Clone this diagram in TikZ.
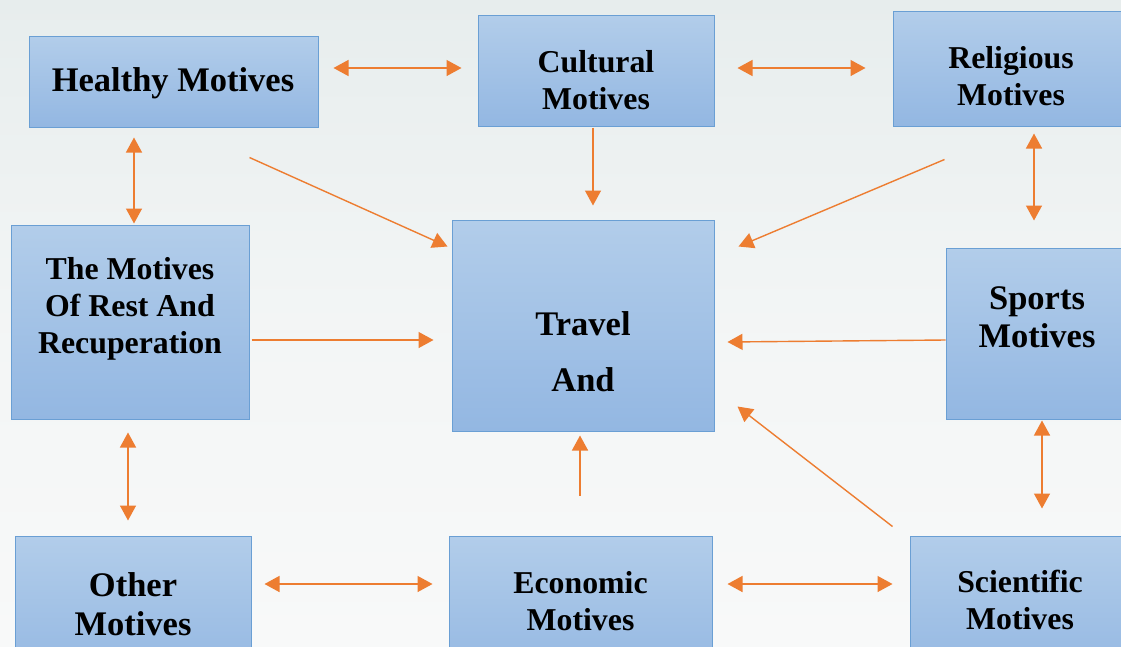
\documentclass[tikz,border=0pt]{standalone}
\usepackage{fontspec}
\setmainfont{Liberation Serif}
\usetikzlibrary{arrows.meta,calc}
\definecolor{arrorange}{HTML}{ED7D31}
\definecolor{boxtop}{HTML}{B2CDEA}
\definecolor{boxbot}{HTML}{93B7E2}
\definecolor{boxline}{HTML}{6A9FD4}
\definecolor{bgtop}{HTML}{E7EDED}
\definecolor{bgbot}{HTML}{F8F9F9}
\tikzset{
  box/.style={draw=boxline, line width=1pt, top color=boxtop, bottom color=boxbot, inner sep=0pt},
  lblA/.style={font=\bfseries\fontsize{31.8}{37}\selectfont, align=center, inner sep=0pt},
  lblB/.style={font=\bfseries\fontsize{34.5}{38.5}\selectfont, align=center, inner sep=0pt},
  one/.style={draw=arrorange, line width=1.4pt, -{Triangle[length=15pt,width=16pt]}},
  two/.style={draw=arrorange, line width=1.4pt, {Triangle[length=15pt,width=16pt]}-{Triangle[length=15pt,width=16pt]}}
}
\begin{document}
\begin{tikzpicture}[x=1pt,y=-1pt]
\useasboundingbox (0,0) rectangle (1121,646);
\clip (0,0) rectangle (1121,646);
\shade[top color=bgtop, bottom color=bgbot, middle color=bgbot!70!bgtop] (0,0) rectangle (1121,646);

% boxes
\node[box, minimum width=289pt, minimum height=91pt] (hea) at (173.5,81.5) {};
\node[box, minimum width=236pt, minimum height=111pt] (cul) at (596,70.5) {};
\node[box, minimum width=236pt, minimum height=115pt] (rel) at (1011,68.5) {};
\node[box, minimum width=238pt, minimum height=194pt] (res) at (130,322) {};
\node[box, minimum width=262pt, minimum height=211pt] (tra) at (583,325.5) {};
\node[box, minimum width=182pt, minimum height=171pt] (spo) at (1037,333.5) {};
\node[box, minimum width=236pt, minimum height=144pt] (oth) at (133,608) {};
\node[box, minimum width=263pt, minimum height=144pt] (eco) at (580.5,608) {};
\node[box, minimum width=220pt, minimum height=144pt] (sci) at (1020,608) {};

% texts
\node[lblB] (heaT) at (173,83) {Healthy Motives};
\node[lblA] (culT) at (596,80) {Cultural\\Motives};
\node[lblA] (relT) at (1011,76) {Religious\\Motives};
\node[lblA] (resT) at (130,309) {The Motives\\Of Rest And\\Recuperation};
\node[font=\bfseries\fontsize{34.5}{56}\selectfont, align=center, inner sep=0pt] (traT) at (583,352) {Travel\\And};
\node[lblB] (spoT) at (1037,317) {Sports\\Motives};
\node[lblB] (othT) at (133,604) {Other\\Motives};
\node[lblA] (ecoT) at (580.5,601) {Economic\\Motives};
\node[lblA] (sciT) at (1020,600) {Scientific\\Motives};

% double arrows
\draw[two, shorten <=15pt, shorten >=16pt] (hea.east |- 0,68) -- (cul.west |- 0,68);
\draw[two, shorten <=23pt, shorten >=27pt] (cul.east |- 0,68) -- (rel.west |- 0,68);
\draw[two, shorten <=10pt, shorten >=1pt] (hea.south -| 134,0) -- (res.north -| 134,0);
\draw[two, shorten <=7pt, shorten >=27pt] (rel.south -| 1034,0) -- (spo.north -| 1034,0);
\draw[two, shorten <=13pt, shorten >=15pt] (res.south -| 128,0) -- (oth.north -| 128,0);
\draw[two, shorten <=1pt, shorten >=27pt] (spo.south -| 1042,0) -- (sci.north -| 1042,0);
\draw[two, shorten <=13pt, shorten >=16pt] (oth.east |- 0,584) -- (eco.west |- 0,584);
\draw[two, shorten <=15pt, shorten >=17pt] (eco.east |- 0,584) -- (sci.west |- 0,584);

% arrows to travel
\draw[one, shorten <=1pt, shorten >=14pt] (cul.south -| 593,0) -- (tra.north -| 593,0);
\draw[one] ($(hea.south east)+(-69,30)$) -- ($(tra.north west)+(-4,27)$);
\draw[one] ($(rel.south west)+(52,33)$) -- ($(tra.north east)+(24,27)$);
\draw[one, shorten <=2pt, shorten >=18pt] (res.east |- 0,340) -- (tra.west |- 0,340);
\draw[one] ($(spo.west)+(0,6.5)$) -- ($(tra.east)+(13,16.5)$);
\draw[one, shorten <=40pt, shorten >=4pt] (eco.north -| 580,0) -- (tra.south -| 580,0);
\draw[one] ($(sci.north west)+(-17,-9)$) -- ($(tra.south east)+(23,-25)$);
\end{tikzpicture}
\end{document}
